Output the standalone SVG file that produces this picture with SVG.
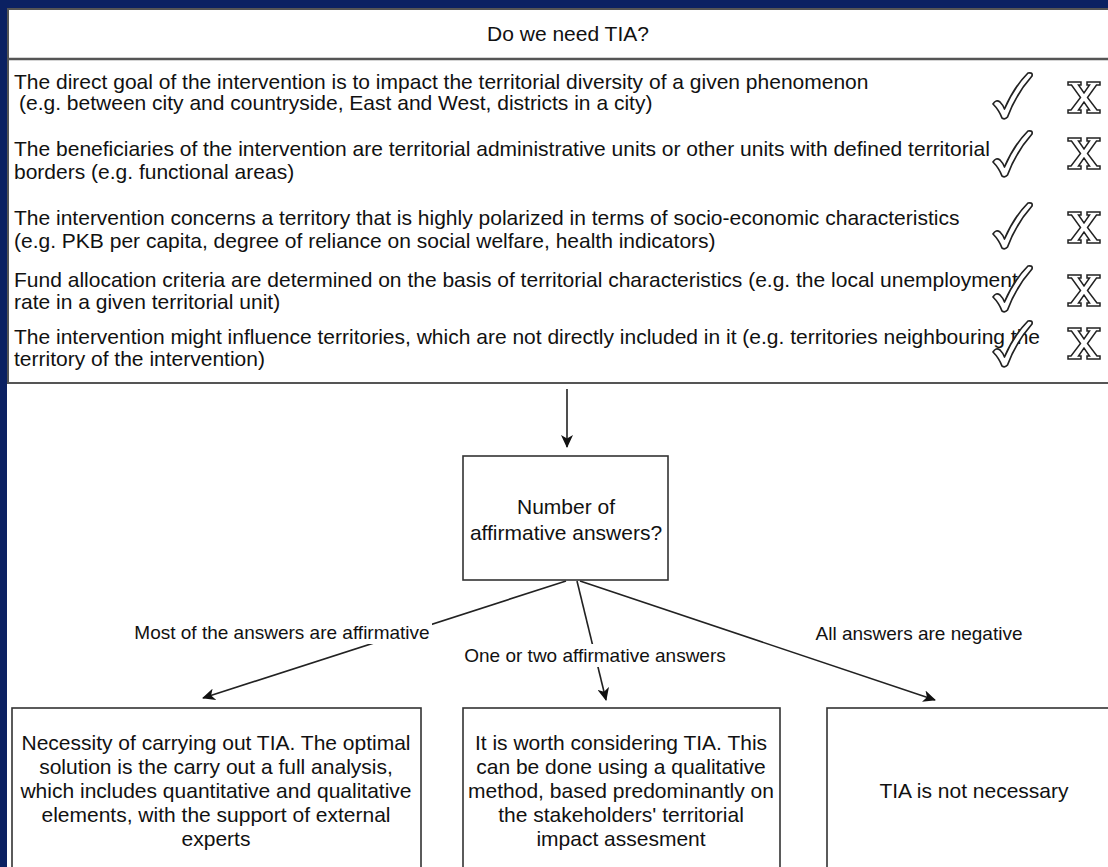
<svg xmlns="http://www.w3.org/2000/svg" width="1108" height="867" viewBox="0 0 1108 867">
<defs>
<style>
text{font-family:"Liberation Sans",Arial,sans-serif;fill:#111}
.t{font-size:21px}
.c{font-size:21px;text-anchor:middle}
.l{font-size:19px;text-anchor:middle}
.box{fill:#fff;stroke:#333;stroke-width:1.6}
.edge{fill:none;stroke:#222;stroke-width:1.6}
.ck{fill:#fff;stroke:#222;stroke-width:1.7;stroke-linejoin:round}
.xg{fill:#fff;stroke:#222;stroke-width:1.5;stroke-linejoin:miter}
</style>
<marker id="ah" markerWidth="14" markerHeight="12" refX="12" refY="6" orient="auto" markerUnits="userSpaceOnUse">
<path d="M0,0 L13,6 L0,12 L3.5,6 Z" fill="#111"/>
</marker>
<path id="check" d="M1,32 Q4,27 8,30 Q11,33 12.5,37 Q22,15 36,1 Q41,0 40,4 Q24,22 15.5,45 Q13,48 10,46 Q7,38 1,32 Z"/>
<path id="xg" d="M0,0 H13 V3 H10.5 L16,11 L21.5,3 H19 V0 H32 V3 H28.5 L19.5,15.5 L29,28 H32 V31 H19 V28 H21.5 L16,20 L10.5,28 H13 V31 H0 V28 H3 L12.5,15.5 L3.5,3 H0 Z"/>
</defs>
<rect x="0" y="0" width="1108" height="867" fill="#0b2162"/>
<rect x="7" y="8" width="1101" height="859" fill="#fff"/>

<g id="criteria">
<rect x="8" y="9" width="1110" height="374" fill="#fff" stroke="#555" stroke-width="2"/>
<line x1="8" y1="59" x2="1108" y2="59" stroke="#555" stroke-width="2.5"/>
<text class="c" x="568" y="41">Do we need TIA?</text>
<text class="t" x="14" y="89">The direct goal of the intervention is to impact the territorial diversity of a given phenomenon</text>
<text class="t" x="19" y="110">(e.g. between city and countryside, East and West, districts in a city)</text>
<text class="t" x="14" y="156">The beneficiaries of the intervention are territorial administrative units or other units with defined territorial</text>
<text class="t" x="14" y="179">borders (e.g. functional areas)</text>
<text class="t" x="14" y="225">The intervention concerns a territory that is highly polarized in terms of socio-economic characteristics</text>
<text class="t" x="14" y="248">(e.g. PKB per capita, degree of reliance on social welfare, health indicators)</text>
<text class="t" x="14" y="287">Fund allocation criteria are determined on the basis of territorial characteristics (e.g. the local unemployment</text>
<text class="t" x="14" y="309">rate in a given territorial unit)</text>
<text class="t" x="14" y="344">The intervention might influence territories, which are not directly included in it (e.g. territories neighbouring the</text>
<text class="t" x="14" y="366">territory of the intervention)</text>
<g class="ck">
<use href="#check" x="992" y="72"/>
<use href="#check" x="992" y="130"/>
<use href="#check" x="992" y="202"/>
<use href="#check" x="992" y="265"/>
<use href="#check" x="992" y="320"/>
</g>
<g class="xg">
<use href="#xg" x="1068" y="82"/>
<use href="#xg" x="1068" y="138"/>
<use href="#xg" x="1068" y="212"/>
<use href="#xg" x="1068" y="275"/>
<use href="#xg" x="1068" y="328"/>
</g>
</g>

<g id="connectors">
<line class="edge" x1="567" y1="389" x2="567" y2="447" marker-end="url(#ah)"/>
<line class="edge" x1="566" y1="581" x2="203" y2="698" marker-end="url(#ah)"/>
<line class="edge" x1="577" y1="581" x2="606" y2="700" marker-end="url(#ah)"/>
<line class="edge" x1="580" y1="581" x2="935" y2="700" marker-end="url(#ah)"/>
<rect x="133" y="621" width="299" height="23" fill="#fff"/>
<text class="l" x="282" y="639">Most of the answers are affirmative</text>
<rect x="461" y="644" width="268" height="23" fill="#fff"/>
<text class="l" x="595" y="662">One or two affirmative answers</text>
<text class="l" x="919" y="640">All answers are negative</text>
</g>

<g id="count">
<rect class="box" x="463" y="456" width="205" height="124"/>
<text class="c" x="566" y="514">Number of</text>
<text class="c" x="566" y="540">affirmative answers?</text>
</g>

<g id="full">
<rect class="box" x="12" y="708" width="409" height="200"/>
<text class="c" x="216" y="750">Necessity of carrying out TIA. The optimal</text>
<text class="c" x="216" y="774">solution is the carry out a full analysis,</text>
<text class="c" x="216" y="798">which includes quantitative and qualitative</text>
<text class="c" x="216" y="822">elements, with the support of external</text>
<text class="c" x="216" y="846">experts</text>
</g>

<g id="qualitative">
<rect class="box" x="463" y="708" width="317" height="200"/>
<text class="c" x="621" y="750">It is worth considering TIA. This</text>
<text class="c" x="621" y="774">can be done using a qualitative</text>
<text class="c" x="621" y="798">method, based predominantly on</text>
<text class="c" x="621" y="822">the stakeholders' territorial</text>
<text class="c" x="621" y="846">impact assesment</text>
</g>

<g id="none">
<rect class="box" x="827" y="708" width="300" height="200"/>
<text class="c" x="974" y="798">TIA is not necessary</text>
</g>
</svg>
